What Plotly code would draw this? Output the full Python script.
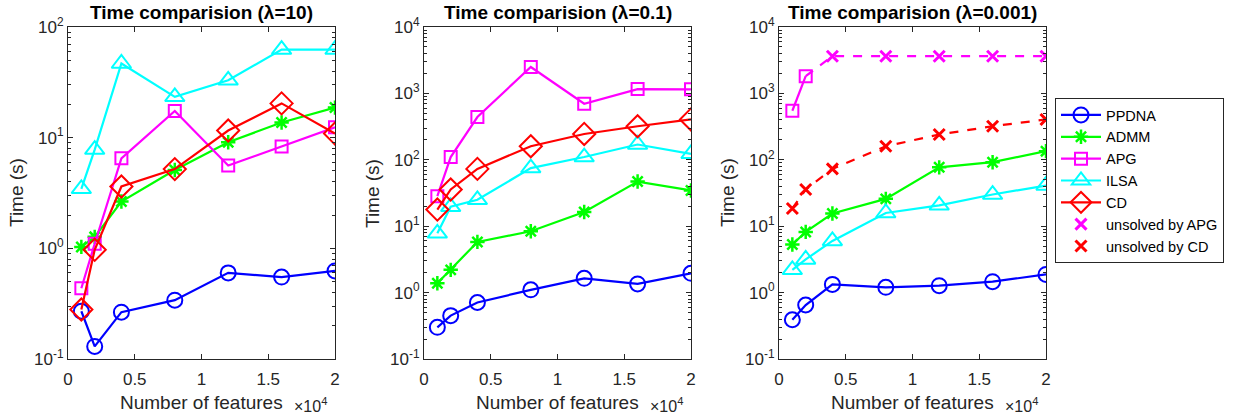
import plotly.graph_objects as go

features = [1000, 2000, 4000, 8000, 12000, 16000, 20000]

# lambda = 10
p1_ppdna = [0.27, 0.13, 0.265, 0.34, 0.60, 0.55, 0.625]
p1_admm = [1.03, 1.27, 2.65, 5.1, 9.1, 13.7, 18.7]
p1_apg = [0.436, 1.1, 6.5, 17.4, 5.6, 8.3, 12.4]
p1_ilsa = [3.45, 7.8, 46.8, 23.4, 33.0, 62.5, 62.5]
p1_cd = [0.28, 0.97, 3.62, 5.2, 11.6, 20.4, 10.9]

# lambda = 0.1
p2_ppdna = [0.30, 0.45, 0.71, 1.1, 1.64, 1.35, 1.95]
p2_admm = [1.38, 2.2, 5.8, 8.4, 16.4, 47, 34.5]
p2_apg = [28.3, 110, 440, 2500, 700, 1160, 1150]
p2_ilsa = [7.8, 19.6, 25, 75, 110, 170, 123]
p2_cd = [17.8, 35.7, 73, 160, 245, 320, 405]

# lambda = 0.001
p3_ppdna = [0.39, 0.65, 1.33, 1.2, 1.27, 1.46, 1.88]
p3_admm = [5.3, 8.2, 15.5, 25.8, 77, 92, 135]
p3_ilsa = [2.2, 3.16, 6.0, 15.8, 20.6, 30, 41]
p3_apg_x = [1000, 2000]
p3_apg = [548, 1820]
p3_apg_unsolved_x = [2000, 4000, 8000, 12000, 16000, 20000]
p3_apg_unsolved = [1820, 3630, 3630, 3630, 3630, 3630]
p3_cd_unsolved = [18.5, 35.7, 73, 160, 240, 320, 405]

titles = ["Time comparision (λ=10)", "Time comparision (λ=0.1)", "Time comparision (λ=0.001)"]
x_tickvals = [0, 5000, 10000, 15000, 20000]
x_ticktext = ["0", "0.5", "1", "1.5", "2"]

BLUE, GREEN, MAG, CYAN, RED = "#0000FF", "#00FF00", "#FF00FF", "#00FFFF", "#FF0000"
FONT = "Liberation Sans, Arial, sans-serif"

W, H = 1253, 418


def fx(px):
    return px / W


def fy(py):
    return 1 - py / H


fig = go.Figure()


def add(xs, ys, color, symbol, name, ax, show, dash="solid", mode="lines+markers", size=13, lw=2.2, mlw=2):
    fig.add_trace(go.Scatter(
        x=xs, y=ys, mode=mode, name=name, showlegend=show,
        line=dict(color=color, width=lw, dash=dash),
        marker=dict(symbol=symbol, size=size, color=color, line=dict(color=color, width=mlw)),
        xaxis="x" + ("" if ax == 1 else str(ax)), yaxis="y" + ("" if ax == 1 else str(ax)),
    ))


series_sets = [
    (p1_ppdna, p1_admm, p1_apg, p1_ilsa, p1_cd),
    (p2_ppdna, p2_admm, p2_apg, p2_ilsa, p2_cd),
]
for k, (pp, ad, ap, il, cd) in enumerate(series_sets):
    ax = k + 1
    add(features, pp, BLUE, "circle-open", "PPDNA", ax, False, size=15)
    add(features, ad, GREEN, "asterisk-open", "ADMM", ax, False, size=12, mlw=2.5)
    add(features, ap, MAG, "square-open", "APG", ax, False, size=12)
    add(features, il, CYAN, "triangle-up-open", "ILSA", ax, False, size=17)
    add(features, cd, RED, "diamond-open", "CD", ax, False, size=17)

# panel 3
add(features, p3_ppdna, BLUE, "circle-open", "PPDNA", 3, True, size=15)
add(features, p3_admm, GREEN, "asterisk-open", "ADMM", 3, True, size=12, mlw=2.5)
add(p3_apg_x, p3_apg, MAG, "square-open", "APG", 3, True, size=12)
add(features, p3_ilsa, CYAN, "triangle-up-open", "ILSA", 3, True, size=17)
add([None], [None], RED, "diamond-open", "CD", 3, True, size=17)
add(p3_apg_unsolved_x, p3_apg_unsolved, MAG, "x-thin-open", "", 3, False, dash="dash", mode="lines")
add(p3_apg_unsolved_x[1:], p3_apg_unsolved[1:], MAG, "x-thin-open", "unsolved by APG", 3, True,
    mode="markers", size=11, mlw=3)
add(features, p3_cd_unsolved, RED, "x-thin-open", "", 3, False, dash="dash", mode="lines")
add(features, p3_cd_unsolved, RED, "x-thin-open", "unsolved by CD", 3, True, mode="markers", size=11, mlw=3)

x_px = [(68, 335), (424, 691), (779, 1046)]
y_dom = [fy(359), fy(27)]
yranges = [(-1, 2), (-1, 4), (-1, 4)]

axcolor = "#262626"
annotations = []
for i in range(3):
    sfx = "" if i == 0 else str(i + 1)
    x0, x1 = x_px[i]
    lo, hi = yranges[i]
    ytv = [10 ** k for k in range(lo, hi + 1)]
    ytt = ["10<sup>%d</sup>" % k for k in range(lo, hi + 1)]
    minor_vals = [m * 10 ** k for k in range(lo, hi) for m in range(2, 10)]
    fig.layout["xaxis" + sfx] = dict(
        domain=[fx(x0), fx(x1)], range=[0, 20000], anchor="y" + sfx, automargin=False,
        tickvals=x_tickvals, ticktext=x_ticktext, ticks="inside", ticklen=5, ticklabelstandoff=5,
        showline=True, mirror="ticks", linecolor=axcolor, linewidth=1, tickcolor=axcolor,
        showgrid=False, zeroline=False,
        tickfont=dict(family=FONT, size=17, color=axcolor),
    )
    fig.layout["yaxis" + sfx] = dict(
        domain=y_dom, type="log", range=[lo, hi], anchor="x" + sfx, automargin=False,
        tickvals=ytv, ticktext=ytt, ticks="inside", ticklen=5,
        minor=dict(tickvals=minor_vals, ticks="inside", ticklen=3, tickcolor=axcolor, showgrid=False),
        showline=True, mirror="ticks", linecolor=axcolor, linewidth=1, tickcolor=axcolor,
        showgrid=False, zeroline=False,
        tickfont=dict(family=FONT, size=17, color=axcolor),
    )
    cx = (x0 + x1) / 2
    annotations.append(dict(text="<b>" + titles[i] + "</b>", x=fx(cx), y=fy(13), xref="paper", yref="paper",
                            showarrow=False, xanchor="center", yanchor="middle",
                            font=dict(family=FONT, size=19, color="black")))
    annotations.append(dict(text="Number of features", x=fx(cx), y=fy(402), xref="paper", yref="paper",
                            showarrow=False, xanchor="center", yanchor="middle",
                            font=dict(family=FONT, size=19, color=axcolor)))
    annotations.append(dict(text="×10<sup>4</sup>", x=fx(x1 - 43), y=fy(405), xref="paper", yref="paper",
                            showarrow=False, xanchor="left", yanchor="middle",
                            font=dict(family=FONT, size=16, color=axcolor)))
    annotations.append(dict(text="Time (s)", x=fx(x0 - 52), y=(y_dom[0] + y_dom[1]) / 2,
                            xref="paper", yref="paper",
                            showarrow=False, xanchor="center", yanchor="middle", textangle=-90,
                            font=dict(family=FONT, size=19, color=axcolor)))

fig.update_layout(
    width=W, height=H, margin=dict(l=0, r=0, t=0, b=0, autoexpand=False),
    paper_bgcolor="white", plot_bgcolor="white",
    annotations=annotations,
    legend=dict(x=fx(1055), y=fy(98), xanchor="left", yanchor="top",
                bordercolor="#262626", borderwidth=1, bgcolor="white",
                font=dict(family=FONT, size=14.5, color="black"),
                itemwidth=40, tracegroupgap=0),
)

fig.write_html("out.html", config={"displayModeBar": False},
               post_script="document.body.style.margin='0px';")
